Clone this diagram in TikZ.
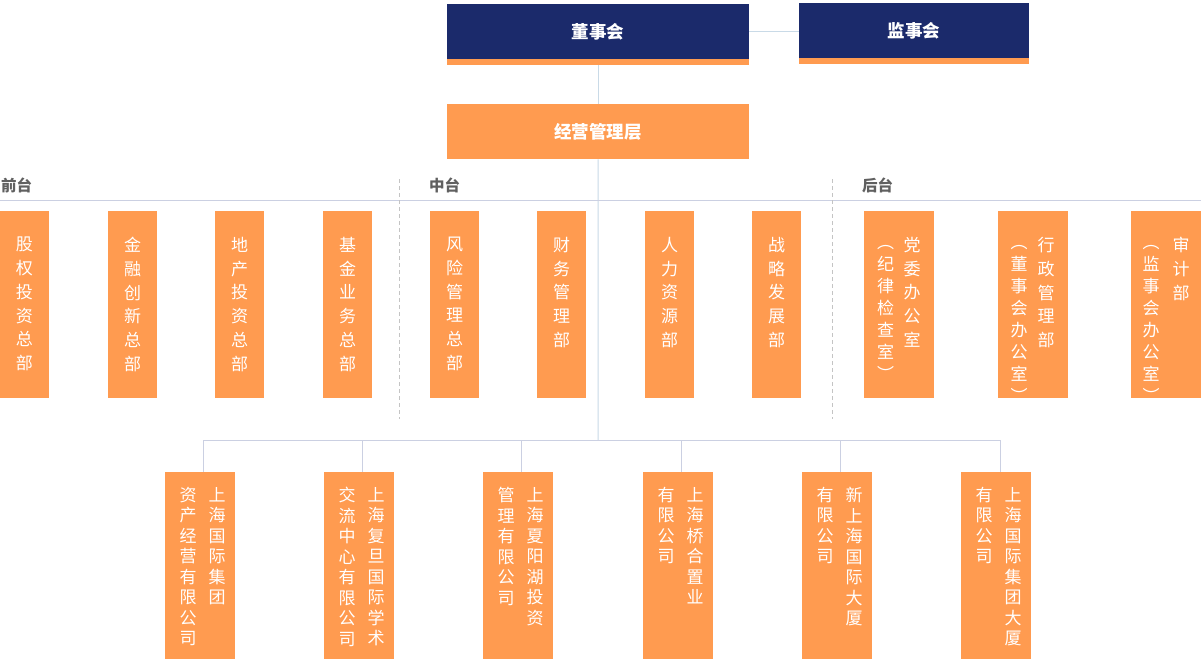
\documentclass[tikz,border=0pt]{standalone}
\usepackage{fontspec}
\newfontfamily\cjk{Noto Sans CJK SC}
\definecolor{navy}{HTML}{1B2A6B}
\definecolor{orng}{HTML}{FF9B50}
\definecolor{linkblue}{HTML}{C9DAE7}
\definecolor{rulegray}{HTML}{CBD0E2}
\definecolor{dashgray}{HTML}{C4C4C4}
\definecolor{labgray}{HTML}{606060}
\begin{document}
\begin{tikzpicture}[x=1pt,y=-1pt,
  navybox/.style={fill=navy,draw=none,inner sep=0,anchor=north west,text=white,font=\cjk\bfseries\fontsize{17.5}{20}\selectfont},
  titlebox/.style={fill=orng,draw=none,inner sep=0,anchor=north west,text=white,font=\cjk\bfseries\fontsize{17.5}{20}\selectfont},
  deptbox/.style={fill=orng,draw=none,inner sep=0,anchor=north west,minimum width=49pt,minimum height=187pt},
  widebox/.style={fill=orng,draw=none,inner sep=0,anchor=north west,minimum width=70pt,minimum height=187pt},
  vt/.style={text=white,inner sep=0,anchor=north,align=center,font=\cjk\fontsize{17}{23.75}\selectfont},
  vl/.style={text=white,inner sep=0,anchor=north,align=center,font=\cjk\fontsize{17}{22}\selectfont},
  vb/.style={text=white,inner sep=0,anchor=north,align=center,font=\cjk\fontsize{17}{20.5}\selectfont},
  seclab/.style={text=labgray,inner sep=0,anchor=west,font=\cjk\bfseries\fontsize{15.5}{18}\selectfont},
  conn/.style={draw=linkblue,line width=1pt},
  rule/.style={draw=rulegray,line width=1pt},
  sepline/.style={draw=dashgray,line width=1pt,dash pattern=on 4pt off 3pt}]
\fill[white] (0,0) rectangle (1201,659);
\useasboundingbox (0,0) rectangle (1201,659);

% boards
\node[navybox,minimum width=302pt,minimum height=55pt] (dsh) at (447,4) {董事会};
\fill[orng] (dsh.south west) rectangle ++(302,6);
\node[navybox,minimum width=230pt,minimum height=55pt] (jsh) at (799,3) {监事会};
\fill[orng] (jsh.south west) rectangle ++(230,6);
\node[titlebox,minimum width=302pt,minimum height=55pt] (mgmt) at (447,104) {经营管理层};

\coordinate (bus) at (598,440.5);
\draw[conn] (dsh.east) -- (dsh.east -| jsh.west);
\draw[conn] ([yshift=-6pt]dsh.south) -- (mgmt.north);
\draw[conn] (mgmt.south) -- (bus);

% sections
\draw[rule] (0,200.5) -- (1201,200.5);
\draw[sepline] (399.5,179) -- (399.5,419);
\draw[sepline] (832.5,179) -- (832.5,419);
\node[seclab] (lq) at (1,185) {前台};
\node[seclab] (lz) at (429,185) {中台};
\node[seclab] (lh) at (862,185) {后台};

% front / middle departments
\node[deptbox] (f1) at (0,211) {};
\node[deptbox] (f2) at (108,211) {};
\node[deptbox] (f3) at (215,211) {};
\node[deptbox] (f4) at (323,211) {};
\node[deptbox] (m1) at (430,211) {};
\node[deptbox] (m2) at (537,211) {};
\node[deptbox] (m3) at (645,211) {};
\node[deptbox] (m4) at (752,211) {};
\node[vt] (tf1) at (24.5,237) {股\\权\\投\\资\\总\\部};
\node[vt] (tf2) at (132.5,237) {金\\融\\创\\新\\总\\部};
\node[vt] (tf3) at (239.5,237) {地\\产\\投\\资\\总\\部};
\node[vt] (tf4) at (347.5,237) {基\\金\\业\\务\\总\\部};
\node[vt] (tm1) at (454.5,237) {风\\险\\管\\理\\总\\部};
\node[vt] (tm2) at (561.5,237) {财\\务\\管\\理\\部};
\node[vt] (tm3) at (669.5,237) {人\\力\\资\\源\\部};
\node[vt] (tm4) at (776.5,237) {战\\略\\发\\展\\部};

% back office
\node[widebox] (h1) at (864,211) {};
\node[widebox] (h2) at (998,211) {};
\node[widebox] (h3) at (1131,211) {};
\node[vt] (th1r) at (912,237) {党\\委\\办\\公\\室};
\node[vl] (th1l) at (885.5,245) {︵\\纪\\律\\检\\查\\室\\︶};
\node[vt] (th2r) at (1046,237) {行\\政\\管\\理\\部};
\node[vl] (th2l) at (1019,245) {︵\\董\\事\\会\\办\\公\\室\\︶};
\node[vt] (th3r) at (1181,237) {审\\计\\部};
\node[vl] (th3l) at (1151,245) {︵\\监\\事\\会\\办\\公\\室\\︶};

% subsidiaries
\node[widebox] (b1) at (165,472) {};
\node[widebox] (b2) at (324,472) {};
\node[widebox] (b3) at (483,472) {};
\node[widebox] (b4) at (643,472) {};
\node[widebox] (b5) at (802,472) {};
\node[widebox] (b6) at (961,472) {};
\node[vb] (tb1r) at (217,487) {上\\海\\国\\际\\集\\团};
\node[vb] (tb1l) at (188,487) {资\\产\\经\\营\\有\\限\\公\\司};
\node[vb] (tb2r) at (376,487) {上\\海\\复\\旦\\国\\际\\学\\术};
\node[vb] (tb2l) at (347,487) {交\\流\\中\\心\\有\\限\\公\\司};
\node[vb] (tb3r) at (535,487) {上\\海\\夏\\阳\\湖\\投\\资};
\node[vb] (tb3l) at (506,487) {管\\理\\有\\限\\公\\司};
\node[vb] (tb4r) at (695,487) {上\\海\\桥\\合\\置\\业};
\node[vb] (tb4l) at (666,487) {有\\限\\公\\司};
\node[vb] (tb5r) at (854,487) {新\\上\\海\\国\\际\\大\\厦};
\node[vb] (tb5l) at (825,487) {有\\限\\公\\司};
\node[vb] (tb6r) at (1013,487) {上\\海\\国\\际\\集\\团\\大\\厦};
\node[vb] (tb6l) at (984,487) {有\\限\\公\\司};

% bus to subsidiaries
\draw[rule] ([xshift=2.8pt]b1.north) -- ([xshift=2.8pt]b1.north |- bus) -- ([xshift=3.8pt]b6.north |- bus) -- ([xshift=3.8pt]b6.north);
\draw[rule] ([xshift=3.3pt]b2.north) -- ([xshift=3.3pt]b2.north |- bus);
\draw[rule] ([xshift=3.3pt]b3.north) -- ([xshift=3.3pt]b3.north |- bus);
\draw[rule] ([xshift=3.6pt]b4.north) -- ([xshift=3.6pt]b4.north |- bus);
\draw[rule] ([xshift=3.3pt]b5.north) -- ([xshift=3.3pt]b5.north |- bus);
\end{tikzpicture}
\end{document}
